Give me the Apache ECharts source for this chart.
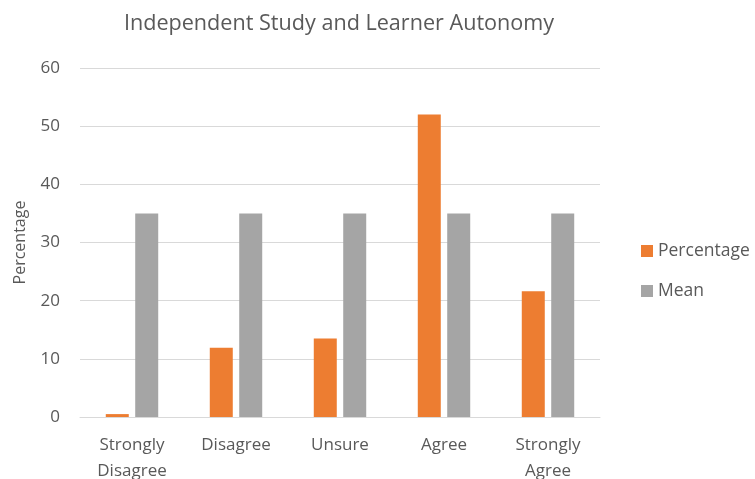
<!DOCTYPE html>
<html>
<head>
<meta charset="utf-8">
<script src="https://cdn.jsdelivr.net/npm/echarts@6/dist/echarts.min.js"></script>
<style>
  html, body { margin: 0; padding: 0; background: #fff; }
  #chart { width: 755px; height: 479px; }
</style>
</head>
<body>
<div id="chart"></div>
<script>
// categories and values
var categories = ['Strongly\nDisagree', 'Disagree', 'Unsure', 'Agree', 'Strongly\nAgree'];
var percentage = [0.5, 11.9, 13.5, 52.0, 21.6];
var mean = [35, 35, 35, 35, 35];

var chart = echarts.init(document.getElementById('chart'));
var textColor = '#595959';
var font = '"Open Sans", "Noto Sans", sans-serif';

var option = {
  animation: false,
  title: {
    text: 'Independent Study and Learner Autonomy',
    left: 334,
    textAlign: 'center',
    top: 8,
    textStyle: { color: textColor, fontSize: 21.6, fontWeight: 'normal', fontFamily: font }
  },
  legend: {
    orient: 'vertical',
    left: 636,
    top: 237,
    itemWidth: 12,
    itemHeight: 12,
    itemGap: 22,
    icon: 'rect',
    textStyle: { color: textColor, fontSize: 17.5, fontFamily: font },
    data: ['Percentage', 'Mean']
  },
  grid: {
    left: 80,
    right: 155,
    top: 68,
    bottom: 62,
    containLabel: false,
    outerBoundsMode: 'none'
  },
  xAxis: {
    type: 'category',
    data: categories,
    axisTick: { show: false },
    axisLine: { lineStyle: { color: '#d9d9d9', width: 1 } },
    axisLabel: {
      color: textColor, fontSize: 17, fontFamily: font,
      margin: 15, lineHeight: 26, interval: 0
    }
  },
  yAxis: {
    type: 'value',
    min: 0,
    max: 60,
    interval: 10,
    name: 'Percentage',
    nameLocation: 'middle',
    nameGap: 52,
    nameTextStyle: { color: textColor, fontSize: 16, fontFamily: font },
    axisLine: { show: false },
    axisTick: { show: false },
    axisLabel: { color: textColor, fontSize: 17, fontFamily: font, margin: 20 },
    splitLine: { lineStyle: { color: '#d9d9d9', width: 1 } }
  },
  series: [
    {
      name: 'Percentage',
      type: 'bar',
      data: percentage,
      barWidth: 23,
      barGap: '28%',
      itemStyle: { color: '#ed7d31' }
    },
    {
      name: 'Mean',
      type: 'bar',
      data: mean,
      barWidth: 23,
      itemStyle: { color: '#a5a5a5' }
    }
  ]
};

chart.setOption(option);
</script>
</body>
</html>
